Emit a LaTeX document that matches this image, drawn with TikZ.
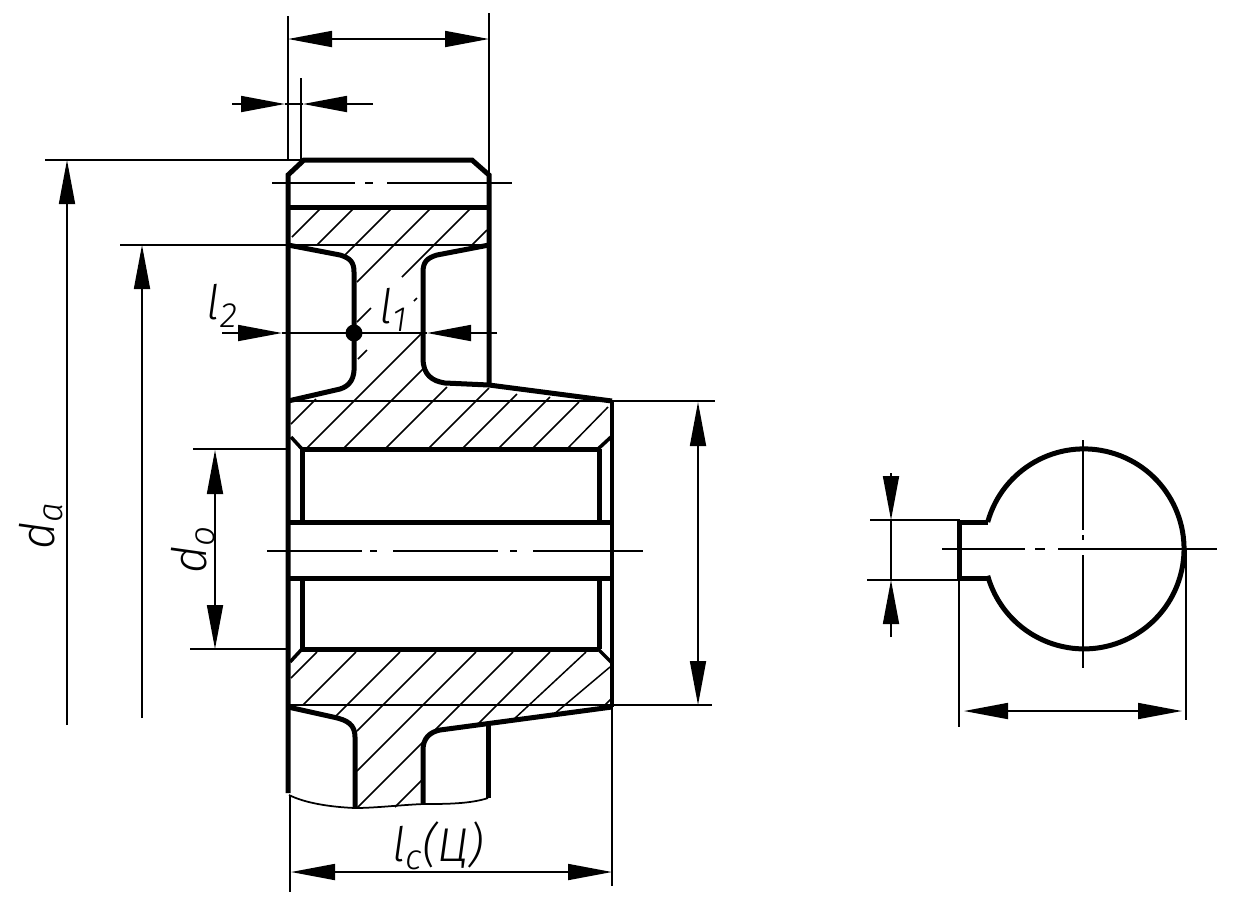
\documentclass[tikz,border=0pt]{standalone}
\usepackage{fontspec}
\setmainfont{Fira Sans}[ItalicFont={Fira Sans Light Italic}]
\usetikzlibrary{arrows.meta}
\def\lowpart#1{\raisebox{-1.5mm}{\fontsize{20}{20}\selectfont\itshape #1}}
\tikzset{
	thickline/.style={line width=1mm},
	medline/.style={line width=0.7mm},
	thinline/.style={line width=0.35mm},
	hatchline/.style={line width=0.3mm},
	dimline/.style={line width=0.35mm, >={Triangle[length=8.8mm,width=3.2mm]}},
	dimlabel/.style={font=\fontsize{27}{27}\selectfont\itshape, inner sep=0pt}
}
\begin{document}
\begin{tikzpicture}[x=0.2mm, y=-0.2mm]
			%%%%% START %%%%%
			\useasboundingbox (0, 0) rectangle (1233, 920);
			
			\foreach \xa/\ya/\xb/\yb in {322/207/292/237, 355/207/317/245, 393/207/345/255, 432/207/357/282, 472/207/402/277, 371/308/357/322, 487/230/471/246, 417/298/414/301, 367/350/358/359, 421/334/306/449, 423/369/343/449, 447/387/385/449, 489/388/428/449, 517/394/462/449, 550/397/498/449, 579/402/532/449, 608/407/567/449, 316/399/291/424} {
				\draw[hatchline] (\xa, \ya) -- (\xb, \yb);
			}
			\foreach \xa/\ya/\xb/\yb in {317/652/291/678, 356/652/303/705, 400/652/335/717, 436/652/357/731, 476/652/357/771, 513/652/357/808, 550/652/475/727, 423/779/395/807, 586/652/513/720, 610/667/553/715, 612/698/600/710} {
				\draw[hatchline] (\xa, \ya) -- (\xb, \yb);
			}
			
			\draw[thickline] (288, 793) -- (288, 175) -- (304, 160) -- (472, 160) -- (489, 175) -- (489, 385);
			\draw[thickline] (288, 207) -- (489, 207);
			\draw[thickline] (288, 245) -- (340, 255) .. controls (350, 258) and (354, 262) .. (354, 272) -- (354, 365) .. controls (355, 378) and (350, 386) .. (340, 389) -- (288, 401);
			\draw[thickline] (489, 245) -- (437, 255) .. controls (427, 258) and (423, 262) .. (423, 272) -- (423, 358) .. controls (423, 375) and (432, 381) .. (445, 383) -- (489, 385) -- (612, 401);
			\draw[medline] (612, 401) -- (612, 707);
			
			\draw[medline] (291, 437) -- (302, 449);
			\draw[medline] (598, 449) -- (611, 437);
			\draw[thickline] (302, 449) -- (598, 449);
			\draw[thickline] (302, 449) -- (302, 522);
			\draw[thickline] (599, 449) -- (599, 522);
			\draw[thickline] (288, 522) -- (612, 522);
			\draw[thickline] (288, 578) -- (612, 578);
			\draw[thickline] (302, 578) -- (302, 649);
			\draw[thickline] (599, 578) -- (599, 649);
			\draw[thickline] (302, 649) -- (598, 649);
			\draw[medline] (290, 662) -- (302, 649);
			\draw[medline] (598, 649) -- (611, 662);
			
			\draw[thickline] (288, 707) -- (333, 717) .. controls (348, 720) and (355, 725) .. (355, 737) -- (355, 807);
			\draw[thickline] (423, 803) -- (423, 750) .. controls (423, 738) and (430, 732) .. (440, 730) -- (612, 707);
			\draw[thickline] (488, 723) -- (488, 798);
			\draw[thinline] (289, 795) .. controls (305, 803) and (330, 807) .. (355, 808) .. controls (375, 808) and (400, 805) .. (423, 804) .. controls (445, 804) and (470, 804) .. (488, 798);
			
			\draw[thinline] (120, 245) -- (489, 245);
			\draw[thinline] (289, 401) -- (715, 401);
			\draw[thinline] (289, 705) -- (712, 705);
			\draw[thinline] (45, 160) -- (300, 160);
			\draw[thinline] (193, 449) -- (290, 449);
			\draw[thinline] (190, 649) -- (290, 649);
			\draw[thinline] (288, 16) -- (288, 160);
			\draw[thinline] (489, 13) -- (489, 178);
			\draw[thinline] (301, 78) -- (301, 160);
			\draw[thinline] (290, 795) -- (290, 892);
			\draw[thinline] (612, 707) -- (612, 886);
			
			\draw[thinline, dash pattern=on 16.6mm off 2mm on 1.6mm off 2.8mm on 25mm] (272, 183) -- (512, 183);
			\draw[thinline, dash pattern=on 19mm off 1.6mm on 1.4mm off 3.2mm on 21mm off 2.4mm on 1.4mm off 3.2mm on 22mm] (267, 551) -- (643, 551);
			
			\draw[dimline, <->] (288, 39) -- (489, 39);
			\draw[dimline, ->] (232, 104) -- (285, 104);
			\draw[dimline, ->] (373, 104) -- (303, 104);
			\draw[dimline] (285, 104) -- (303, 104);
			\draw[dimline, ->] (222, 333) -- (282, 333);
			\draw[dimline, ->] (497, 333) -- (427, 333);
			\draw[dimline] (282, 333) -- (427, 333);
			\fill (354, 333) circle (8.5);
			\draw[dimline, ->] (67, 725) -- (67, 160);
			\draw[dimline, ->] (142, 718) -- (142, 245);
			\draw[dimline, <->] (215, 450) -- (215, 649);
			\draw[dimline, <->] (698, 402) -- (698, 705);
			\draw[dimline, <->] (291, 872) -- (612, 872);
			
			\node[dimlabel, rotate=90] (da) at (41, 526) {d\lowpart{a}};
			\node[dimlabel, rotate=90] (dzero) at (193, 550) {d\lowpart{o}};
			\node[dimlabel] (ltwo) at (222, 306) {l\lowpart{2}};
			\node[dimlabel] (lone) at (393, 310) {l\lowpart{1}};
			\node[dimlabel] (lhub) at (438, 846) {l\lowpart{c}(Ц)};
			
			\draw[thickline] (987.7, 522) arc (195.6:524.4:100);
			\draw[thickline] (987.7, 522) -- (959, 522) -- (959, 578) -- (987.7, 578);
			\draw[thinline, dash pattern=on 16.6mm off 2mm on 2mm off 2.6mm on 32mm] (942, 549) -- (1217, 549);
			\draw[thinline, dash pattern=on 18mm off 1mm on 1mm off 3mm on 30mm] (1083, 440) -- (1083, 668);
			\draw[thinline] (870, 520) -- (960, 520);
			\draw[thinline] (867, 580) -- (960, 580);
			\draw[thinline] (959, 580) -- (959, 727);
			\draw[thinline] (1186, 549) -- (1186, 720);
			\draw[dimline, ->] (891, 473) -- (891, 520);
			\draw[dimline, ->] (891, 637) -- (891, 580);
			\draw[dimline] (891, 520) -- (891, 580);
			\draw[dimline, <->] (964, 711) -- (1182, 711);
			
			%%%%% END %%%%%
		\end{tikzpicture}
\end{document}
